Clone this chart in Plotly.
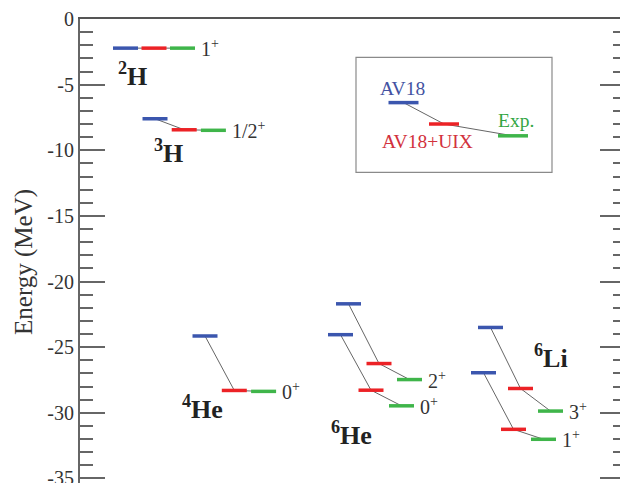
import plotly.graph_objects as go

# Ground and low-lying states of light nuclei: AV18, AV18+UIX and experiment (MeV)
nucleus_labels = ["<sup>2</sup>H", "<sup>3</sup>H", "<sup>4</sup>He", "<sup>6</sup>He", "<sup>6</sup>Li"]
state_labels = ["1<sup>+</sup>", "1/2<sup>+</sup>", "0<sup>+</sup>", "0<sup>+</sup>", "2<sup>+</sup>",
                "1<sup>+</sup>", "3<sup>+</sup>"]
av18 = [-2.22, -7.60, -24.15, -24.05, -21.70, -26.95, -23.50]
av18_uix = [-2.22, -8.44, -28.30, -28.28, -26.25, -31.26, -28.15]
experiment = [-2.22, -8.48, -28.37, -29.47, -27.47, -32.02, -29.87]

ytick_vals = [0, -5, -10, -15, -20, -25, -30, -35]
ytick_text = ["0", "-5", "-10", "-15", "-20", "-25", "-30", "-35"]

# Legend key sample energies
key_energies = [-6.37, -8.00, -8.90]

# Layout: horizontal slot of each state (AV18 bar centre) and spacing between the three bars
slot_x = [45.5, 75.0, 125.0, 260.5, 268.5, 403.5, 410.5]
slot_step = [28.5, 29.2, 29.3, 30.5, 30.5, 30.0, 30.0]
half_w = 12.5
key_x = [323.5, 364.0, 433.0]
key_half_w = 15.0

BLUE = "#3b56ae"
RED = "#ec2226"
GREEN = "#3fb54a"
SERIF = "Liberation Serif, Times New Roman, serif"
INK = "#333333"

fig = go.Figure()


def bar_path(centres, values, hw):
    xs, ys = [], []
    for c, v in zip(centres, values):
        xs += [c - hw, c + hw, None]
        ys += [v, v, None]
    return xs, ys


# Connecting lines between models
cx, cy = [], []
for i in range(len(av18)):
    c0 = slot_x[i]
    cx += [c0, c0 + slot_step[i], c0 + 2 * slot_step[i], None]
    cy += [av18[i], av18_uix[i], experiment[i], None]
cx += key_x + [None]
cy += key_energies + [None]
fig.add_trace(go.Scatter(x=cx, y=cy, mode="lines", line=dict(color="#666666", width=1),
                         hoverinfo="skip", showlegend=False))

series = [(av18, 0, BLUE, "AV18"), (av18_uix, 1, RED, "AV18+UIX"), (experiment, 2, GREEN, "Exp.")]
for vals, k, col, name in series:
    centres = [slot_x[i] + k * slot_step[i] for i in range(len(vals))]
    xs, ys = bar_path(centres, vals, half_w)
    kx, ky = bar_path([key_x[k]], [key_energies[k]], key_half_w)
    fig.add_trace(go.Scatter(x=xs + kx, y=ys + ky, mode="lines", name=name,
                             line=dict(color=col, width=3.5), showlegend=False))

# Spin-parity labels next to the experimental bars
for i, lab in enumerate(state_labels):
    xe = slot_x[i] + 2 * slot_step[i] + half_w + 4
    fig.add_annotation(x=xe, y=experiment[i], text=lab, showarrow=False, xanchor="left",
                       yanchor="middle", font=dict(family=SERIF, size=20, color=INK))

# Nucleus names
nucleus_pos = [(52, -4.25), (88, -10.1), (122, -29.6), (271, -31.55), (471, -25.75)]
for lab, (xn, yn) in zip(nucleus_labels, nucleus_pos):
    fig.add_annotation(x=xn, y=yn, text="<b>" + lab + "</b>", showarrow=False,
                       font=dict(family=SERIF, size=26, color="#222222"))

# Legend box
fig.add_shape(type="rect", x0=276, x1=472, y0=-2.92, y1=-11.69,
              line=dict(color="#8a8a8a", width=1.2), fillcolor="rgba(0,0,0,0)", layer="below")
key_text = [("AV18", 322.5, -5.3, "#4352a2"), ("AV18+UIX", 347.5, -9.35, "#d2313c"),
            ("Exp.", 436.0, -7.73, "#33a644")]
for t, xk, yk, col in key_text:
    fig.add_annotation(x=xk, y=yk, text=t, showarrow=False,
                       font=dict(family=SERIF, size=19.5, color=col))

# Vertical axis title
fig.add_annotation(x=-0.104, y=0.476, xref="paper", yref="paper", text="Energy (MeV)",
                   textangle=-90, showarrow=False, xanchor="center", yanchor="middle",
                   font=dict(family=SERIF, size=25, color=INK))

fig.update_layout(
    width=620, height=483,
    margin=dict(l=80, r=0, t=19, b=0, autoexpand=False),
    paper_bgcolor="white", plot_bgcolor="white",
    showlegend=False,
    xaxis=dict(range=[0, 540], side="top", showline=True, linecolor="#555555", linewidth=2,
               showgrid=False, zeroline=False, ticks="", showticklabels=False, fixedrange=True,
               automargin=False),
    yaxis=dict(range=[-35.35, 0], tickmode="array", tickvals=ytick_vals, ticktext=ytick_text,
               ticks="inside", ticklen=25, tickwidth=2, tickcolor="#666666",
               minor=dict(tickmode="linear", tick0=0, dtick=1, ticks="inside", ticklen=13,
                          tickwidth=2, tickcolor="#666666"),
               showline=True, linecolor="#666666", linewidth=2,
               showgrid=False, zeroline=False, ticklabeloverflow="allow", automargin=False,
               tickfont=dict(family=SERIF, size=20, color=INK)),
    yaxis2=dict(range=[-35.35, 0], overlaying="y", side="right", tickmode="array",
                tickvals=ytick_vals, ticks="inside", ticklen=20, tickwidth=2, tickcolor="#666666",
                minor=dict(tickmode="linear", tick0=0, dtick=1, ticks="inside", ticklen=7.5,
                           tickwidth=2, tickcolor="#666666"),
                showticklabels=False, showline=False, showgrid=False, zeroline=False,
                automargin=False),
)
fig.add_trace(go.Scatter(x=[None], y=[None], yaxis="y2", showlegend=False, hoverinfo="skip"))

fig.write_html("out.html")
